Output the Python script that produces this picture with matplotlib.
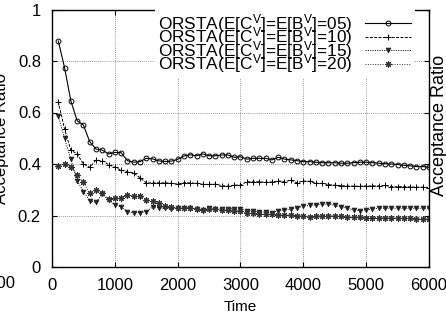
import matplotlib
matplotlib.use('Agg')
import matplotlib.pyplot as plt

plt.rcParams['font.family'] = ['Liberation Sans', 'DejaVu Sans']
plt.rcParams['mathtext.fontset'] = 'custom'
plt.rcParams['mathtext.rm'] = 'Liberation Sans'
plt.rcParams['mathtext.it'] = 'Liberation Sans:italic'

time = list(range(100, 6100, 100))

ratio_05 = [0.878, 0.774, 0.645, 0.568, 0.551, 0.487, 0.458, 0.454, 0.439, 0.445,
            0.444, 0.413, 0.407, 0.409, 0.422, 0.420, 0.412, 0.410, 0.411, 0.418,
            0.431, 0.436, 0.432, 0.439, 0.432, 0.432, 0.435, 0.435, 0.426, 0.428,
            0.419, 0.422, 0.422, 0.422, 0.416, 0.426, 0.419, 0.416, 0.413, 0.409,
            0.409, 0.407, 0.405, 0.405, 0.405, 0.403, 0.403, 0.405, 0.407, 0.407,
            0.405, 0.403, 0.401, 0.400, 0.398, 0.395, 0.393, 0.390, 0.390, 0.387]
ratio_10 = [0.642, 0.535, 0.454, 0.439, 0.400, 0.387, 0.415, 0.413, 0.398, 0.387,
            0.376, 0.370, 0.366, 0.346, 0.327, 0.327, 0.327, 0.327, 0.325, 0.322,
            0.327, 0.327, 0.325, 0.321, 0.321, 0.322, 0.316, 0.314, 0.318, 0.318,
            0.331, 0.331, 0.331, 0.329, 0.330, 0.334, 0.332, 0.337, 0.327, 0.334,
            0.333, 0.325, 0.325, 0.320, 0.318, 0.316, 0.315, 0.314, 0.314, 0.315,
            0.315, 0.315, 0.317, 0.312, 0.312, 0.312, 0.311, 0.310, 0.310, 0.308]
ratio_15 = [0.586, 0.500, 0.418, 0.335, 0.293, 0.258, 0.251, 0.283, 0.260, 0.241,
            0.234, 0.215, 0.211, 0.211, 0.215, 0.234, 0.230, 0.228, 0.226, 0.228,
            0.229, 0.231, 0.224, 0.221, 0.228, 0.225, 0.226, 0.226, 0.226, 0.226,
            0.219, 0.218, 0.215, 0.214, 0.211, 0.219, 0.221, 0.224, 0.230, 0.236,
            0.239, 0.241, 0.243, 0.245, 0.239, 0.233, 0.228, 0.222, 0.219, 0.222,
            0.225, 0.228, 0.228, 0.228, 0.228, 0.228, 0.228, 0.228, 0.228, 0.228]
ratio_20 = [0.392, 0.400, 0.390, 0.357, 0.331, 0.286, 0.299, 0.286, 0.263, 0.267,
            0.267, 0.280, 0.276, 0.276, 0.260, 0.256, 0.250, 0.237, 0.234, 0.230,
            0.229, 0.228, 0.224, 0.221, 0.226, 0.224, 0.222, 0.220, 0.219, 0.218,
            0.208, 0.208, 0.207, 0.206, 0.204, 0.203, 0.203, 0.202, 0.199, 0.198,
            0.196, 0.198, 0.199, 0.200, 0.199, 0.197, 0.194, 0.193, 0.193, 0.192,
            0.192, 0.192, 0.191, 0.190, 0.190, 0.189, 0.189, 0.188, 0.187, 0.186]

labels = ['ORSTA(E[C$^{\\mathrm{V}}$]=E[B$^{\\mathrm{V}}$]=05)',
          'ORSTA(E[C$^{\\mathrm{V}}$]=E[B$^{\\mathrm{V}}$]=10)',
          'ORSTA(E[C$^{\\mathrm{V}}$]=E[B$^{\\mathrm{V}}$]=15)',
          'ORSTA(E[C$^{\\mathrm{V}}$]=E[B$^{\\mathrm{V}}$]=20)']

fig = plt.figure(figsize=(4.46, 3.2), dpi=100)
ax = fig.add_axes([52 / 446, 53 / 320, 377 / 446, 257.5 / 320])

ax.plot(time, ratio_05, color='black', lw=0.8, marker='o', ms=3.5,
        mfc='none', mew=0.7, label=labels[0])
ax.plot(time, ratio_10, color='black', lw=0.7, ls=(0, (3, 1.5)), marker='+',
        ms=4.5, mew=0.7, label=labels[1])
ax.plot(time, ratio_15, color='#222222', lw=0.7, ls=(0, (1.2, 1.2)), marker='v',
        ms=3.5, mew=0.5, label=labels[2])
ax.plot(time, ratio_20, color='#333333', lw=0.7, ls=(0, (1, 1.5)), marker=(8, 2, 0),
        ms=4.5, mew=0.8, label=labels[3])

ax.set_xlim(0, 6000)
ax.set_ylim(0, 1)
ax.set_xticks(range(0, 7000, 1000))
ax.set_yticks([0, 0.2, 0.4, 0.6, 0.8, 1])
ax.set_yticklabels(['0', '0.2', '0.4', '0.6', '0.8', '1'])
ax.tick_params(direction='in', top=True, right=True, length=3.5, width=0.8,
               labelsize=12, pad=8)
ax.grid(True, color='#777777', ls=(0, (1, 1.5)), lw=0.6)
for s in ax.spines.values():
    s.set_linewidth(1.0)

ax.set_xlabel('Time', fontsize=11, labelpad=5)

leg = ax.legend(loc='upper right', bbox_to_anchor=(0.962, 1.005), borderaxespad=0,
                markerfirst=False, fontsize=12.4, labelspacing=-0.54,
                handlelength=2.7, handletextpad=0.7, borderpad=0.2,
                frameon=True, fancybox=False, framealpha=1, edgecolor='none')
leg.get_frame().set_linewidth(0)

# bits of the neighbouring panels that show at the edges
fig.text(2 / 446, 1 - 138 / 320, 'Acceptance Ratio', rotation=90,
         ha='center', va='center', fontsize=12)
fig.text(440 / 446, 1 - 125 / 320, 'Acceptance Ratio', rotation=90,
         ha='center', va='center', fontsize=13)
fig.text(15 / 446, 1 - 284 / 320, '6000', ha='right', va='center', fontsize=12)

fig.savefig('out.png', dpi=100)
